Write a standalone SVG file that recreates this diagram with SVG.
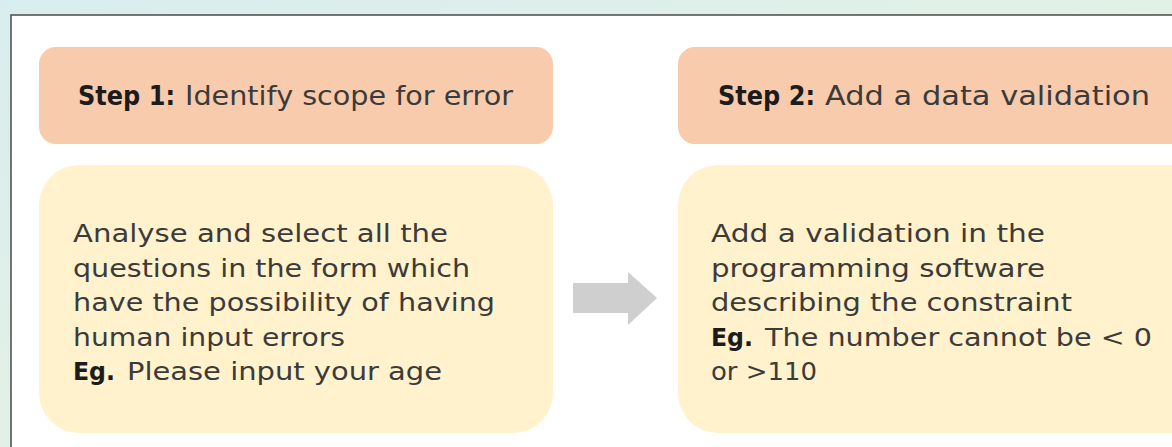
<svg xmlns="http://www.w3.org/2000/svg" width="1172" height="447" viewBox="0 0 1172 447">
  <defs>
    <linearGradient id="bg" x1="0" y1="0" x2="1" y2="1">
      <stop offset="0" stop-color="#d8edef"/>
      <stop offset="0.5" stop-color="#e2f1e6"/>
      <stop offset="1" stop-color="#dcefe4"/>
    </linearGradient>
    <style>
      .head { fill: #f8cbad; }
      .body { fill: #fff2cc; }
      .t { font-family: "DejaVu Sans", "Liberation Sans", sans-serif; fill: #3b3b3b; }
      .h { font-size: 26px; }
      .b { font-size: 25px; }
      .bold { font-weight: bold; fill: #1c1c1c; }
      .arrow { fill: #cfcfcf; }
    </style>
  </defs>

  <!-- page background and white panel -->
  <rect x="0" y="0" width="1172" height="447" fill="url(#bg)"/>
  <rect x="11" y="15" width="1170" height="440" fill="#ffffff" stroke="#4a4a4a" stroke-width="1.5"/>

  <!-- Step 1 -->
  <g id="step1-header">
    <rect class="head" x="39" y="47" width="514" height="97" rx="17"/>
    <text class="t h bold" x="78" y="105" textLength="97" lengthAdjust="spacingAndGlyphs">Step 1:</text>
    <text class="t h" x="185" y="105" textLength="328" lengthAdjust="spacingAndGlyphs">Identify scope for error</text>
  </g>
  <g id="step1-body">
    <rect class="body" x="39" y="165" width="514" height="268" rx="40"/>
    <text class="t b" x="73" y="242" textLength="375" lengthAdjust="spacingAndGlyphs">Analyse and select all the</text>
    <text class="t b" x="73" y="276.5" textLength="397" lengthAdjust="spacingAndGlyphs">questions in the form which</text>
    <text class="t b" x="73" y="311" textLength="422" lengthAdjust="spacingAndGlyphs">have the possibility of having</text>
    <text class="t b" x="73" y="345.5" textLength="272" lengthAdjust="spacingAndGlyphs">human input errors</text>
    <text class="t b bold" x="73" y="380" textLength="42" lengthAdjust="spacingAndGlyphs">Eg.</text>
    <text class="t b" x="127" y="380" textLength="315" lengthAdjust="spacingAndGlyphs">Please input your age</text>
  </g>

  <!-- Step 2 -->
  <g id="step2-header">
    <rect class="head" x="678" y="47" width="520" height="97" rx="17"/>
    <text class="t h bold" x="718" y="105" textLength="97" lengthAdjust="spacingAndGlyphs">Step 2:</text>
    <text class="t h" x="825" y="105" textLength="325" lengthAdjust="spacingAndGlyphs">Add a data validation</text>
  </g>
  <g id="step2-body">
    <rect class="body" x="678" y="165" width="540" height="268" rx="40"/>
    <text class="t b" x="711" y="242" textLength="334" lengthAdjust="spacingAndGlyphs">Add a validation in the</text>
    <text class="t b" x="711" y="276.5" textLength="334" lengthAdjust="spacingAndGlyphs">programming software</text>
    <text class="t b" x="711" y="311" textLength="361" lengthAdjust="spacingAndGlyphs">describing the constraint</text>
    <text class="t b bold" x="711" y="345.5" textLength="42" lengthAdjust="spacingAndGlyphs">Eg.</text>
    <text class="t b" x="765" y="345.5" textLength="387" lengthAdjust="spacingAndGlyphs">The number cannot be &lt; 0</text>
    <text class="t b" x="711" y="380" textLength="106" lengthAdjust="spacingAndGlyphs">or &gt;110</text>
  </g>

  <!-- connector between the steps -->
  <g id="connectors">
    <polygon class="arrow" points="573,283 628,283 628,272 657,298 628,325 628,313 573,313"/>
  </g>
</svg>
